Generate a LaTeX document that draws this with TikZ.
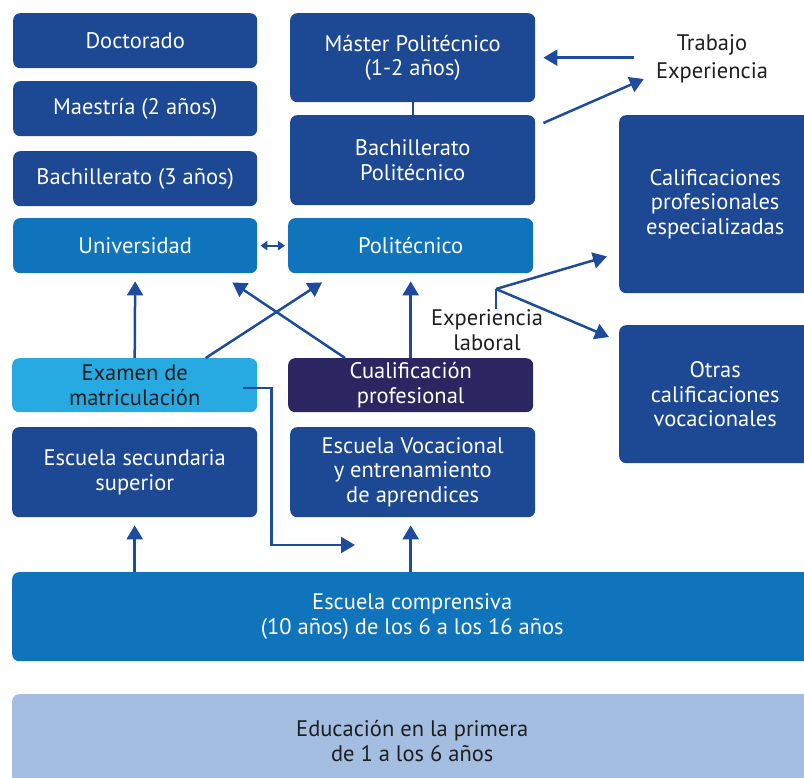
\documentclass[tikz,border=0pt]{standalone}
\usepackage{fontspec}
\setmainfont{PT Sans}
\usetikzlibrary{arrows.meta,calc}
\definecolor{dkblue}{RGB}{28,72,148}
\definecolor{medblue}{RGB}{15,116,188}
\definecolor{cyanb}{RGB}{39,170,225}
\definecolor{navyb}{RGB}{43,38,97}
\definecolor{lightb}{RGB}{164,190,226}
\definecolor{arrowc}{RGB}{30,76,156}
\definecolor{darktext}{RGB}{30,30,30}
\tikzset{
  box/.style={rounded corners=7pt, fill=dkblue, text=white, align=center, inner sep=0pt,
    anchor=north west, font=\fontsize{22.5}{24.5}\selectfont},
  plain/.style={align=center, text=darktext, inner sep=0pt, font=\fontsize{22.5}{28}\selectfont},
  arr/.style={draw=arrowc, line width=2.5pt, -{Triangle[length=14pt,width=16pt]}},
  conn/.style={draw=arrowc, line width=2.5pt},
  dbl/.style={draw=arrowc, line width=2pt, {Triangle[length=7pt,width=9pt]}-{Triangle[length=7pt,width=9pt]}}
}
\begin{document}
\begin{tikzpicture}[x=1pt,y=-1pt]
\useasboundingbox (0,0) rectangle (804,778);
% left column
\node[box, minimum width=244pt, minimum height=55pt] (doc) at (13,13) {Doctorado};
\node[box, minimum width=244pt, minimum height=55pt] (mae) at (13,81) {Maestría (2 años)};
\node[box, minimum width=244pt, minimum height=55pt] (bach) at (13,151) {Bachillerato (3 años)};
\node[box, fill=medblue, minimum width=244pt, minimum height=55pt] (uni) at (13,218) {Universidad};
% middle column
\node[box, minimum width=245pt, minimum height=89pt] (master) at (290,13) {Máster Politécnico\\(1-2 años)};
\node[box, minimum width=245pt, minimum height=90pt] (bpol) at (290,115) {Bachillerato\\Politécnico};
\node[box, fill=medblue, minimum width=245pt, minimum height=55pt] (pol) at (288,218) {Politécnico};
% right column
\node[plain] (trab) at (712,59) {Trabajo\\Experiencia};
\node[box, minimum width=192pt, minimum height=178pt] (calif) at (619,115) {Calificaciones\\profesionales\\especializadas};
\node[box, minimum width=192pt, minimum height=138pt] (otras) at (619,325) {Otras\\calificaciones\\vocacionales};
\node[plain, font=\fontsize{22.5}{24.5}\selectfont] (exper) at (487,330) {Experiencia\\laboral};
% lower rows
\node[box, fill=cyanb, text=darktext, minimum width=245pt, minimum height=54pt] (exam) at (12,358) {Examen de\\matriculación};
\node[box, fill=navyb, minimum width=245pt, minimum height=54pt] (cual) at (288,358) {Cualificación\\profesional};
\node[box, minimum width=245pt, minimum height=90pt] (esec) at (12,427) {Escuela secundaria\\superior};
\node[box, minimum width=245pt, minimum height=90pt] (evoc) at (290,427) {Escuela Vocacional\\y entrenamiento\\de aprendices};
\node[box, fill=medblue, minimum width=800pt, minimum height=89pt] (ecomp) at (12,572) {Escuela comprensiva\\(10 años) de los 6 a los 16 años};
\node[box, fill=lightb, text=darktext, minimum width=800pt, minimum height=94pt] (educ) at (12,694) {Educación en la primera\\de 1 a los 6 años};
% connectors
\draw[conn] ([xshift=123pt]master.south west) -- ([xshift=123pt]bpol.north west);
\draw[dbl] ([xshift=3pt]uni.east) -- ([xshift=-3pt]pol.west);
\draw[arr, shorten <=22pt, shorten >=8pt] (trab.west |- master.east) -- (master.east);
\coordinate (trabin) at ($(trab.west)+(-12,20)$);
\draw[arr] ($(bpol.north east)+(8,8)$) -- (trabin);
\coordinate (ej) at (496,289);
\draw[conn] (ej) -- (ej |- exper.north);
\draw[arr] (ej) -- ($(calif.south west)+(-12,-37)$);
\draw[arr] (ej) -- ($(otras.north west)+(-10,12)$);
\draw[arr, shorten >=8pt] (exam.north) -- (uni.south);
\draw[arr] ($(exam.north)+(71,0)$) -- ($(pol.south west)+(34,9)$);
\draw[arr] ($(cual.north west)+(57,0)$) -- ($(uni.south east)+(-25,9)$);
\draw[arr, shorten >=8pt] (cual.north) -- (pol.south);
\draw[arr, shorten >=8pt] (esec.south |- ecomp.north) -- (esec.south);
\draw[arr, shorten >=8pt] ([xshift=-2pt]evoc.south |- ecomp.north) -- ([xshift=-2pt]evoc.south);
\coordinate (elbend) at (355,545);
\draw[arr] ($(exam.east)+(-14,3)$) -- ++(28,0) |- (elbend);
\end{tikzpicture}
\end{document}
